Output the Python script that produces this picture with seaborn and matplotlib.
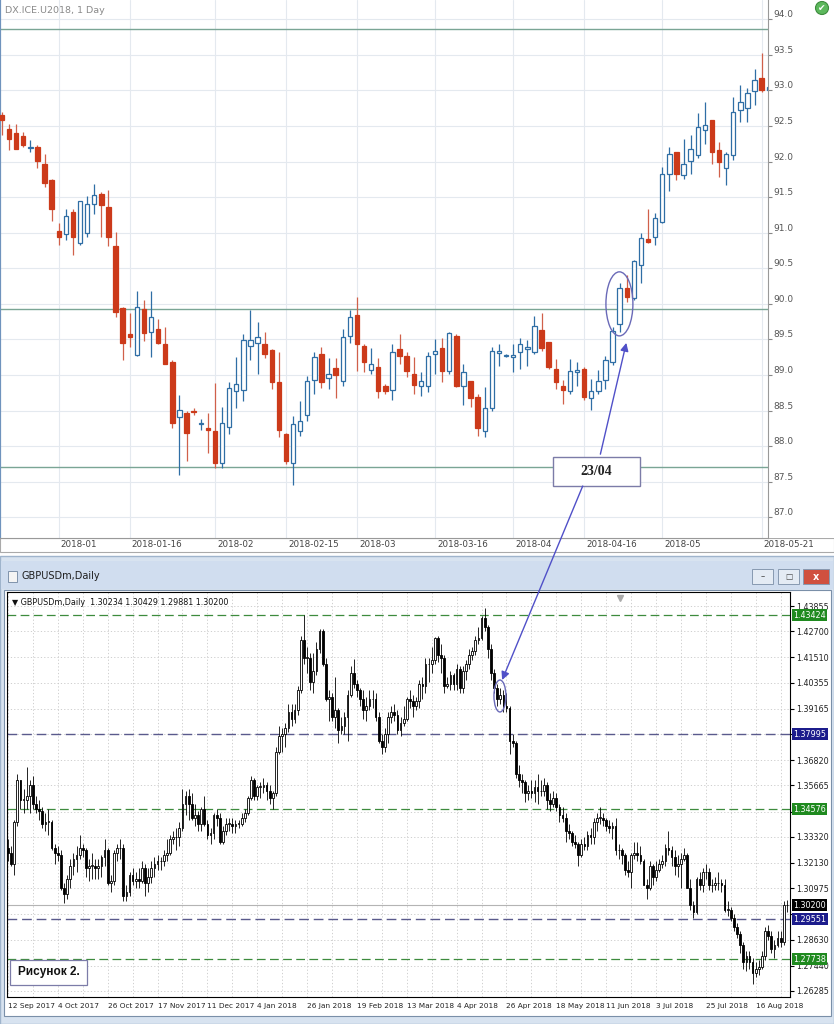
import numpy as np
import pandas as pd
import matplotlib
matplotlib.use("Agg")
import matplotlib.pyplot as plt
import matplotlib.transforms as mtransforms
from matplotlib.patches import Rectangle, Ellipse, ConnectionPatch
import seaborn as sns

sns.set_style("white")
plt.rcParams["font.family"] = ["DejaVu Sans"]

# ---------------- top chart: DX.ICE.U2018, daily ----------------
dx_open = [92.65, 92.46, 92.40, 92.36, 92.19, 92.20, 91.96, 91.74, 91.03, 90.98,
           91.29, 90.85, 90.99, 91.40, 91.55, 91.36, 90.81, 89.94, 89.57, 89.28,
           89.93, 89.61, 89.64, 89.44, 89.18, 88.41, 88.46, 88.49, 88.31, 88.25,
           88.21, 87.77, 88.27, 88.78, 88.79, 89.41, 89.45, 89.44, 89.35, 88.90,
           88.17, 87.77, 88.22, 88.44, 88.93, 89.29, 88.96, 89.10, 88.91, 89.55,
           89.84, 89.41, 89.07, 89.11, 88.85, 88.79, 89.37, 89.27, 89.02, 88.85,
           88.85, 89.30, 89.38, 89.05, 89.55, 88.85, 88.91, 88.69, 88.22, 88.53,
           89.31, 89.27, 89.26, 89.32, 89.37, 89.32, 89.63, 89.46, 89.09, 88.85,
           88.77, 89.04, 89.08, 88.68, 88.78, 88.93, 89.18, 89.72, 90.23, 90.08,
           90.55, 90.91, 90.94, 91.15, 91.83, 92.13, 91.81, 92.01, 92.09, 92.45,
           92.58, 92.16, 91.91, 92.09, 92.72, 92.75, 92.99, 93.18, 93.00]
dx_high = [92.70, 92.53, 92.53, 92.42, 92.30, 92.23, 92.11, 91.76, 91.13, 91.34,
           91.34, 91.45, 91.52, 91.68, 91.57, 91.60, 91.01, 89.95, 89.87, 90.18,
           90.05, 90.18, 89.79, 89.68, 89.21, 88.72, 88.49, 88.53, 88.38, 88.47,
           88.89, 88.55, 88.90, 89.25, 89.58, 89.91, 89.74, 89.61, 89.36, 89.32,
           88.18, 88.43, 88.64, 88.99, 89.32, 89.40, 89.24, 89.24, 89.65, 89.91,
           90.09, 89.44, 89.38, 89.24, 88.87, 89.44, 89.58, 89.32, 89.26, 89.04,
           89.32, 89.51, 89.52, 89.60, 89.58, 89.16, 88.92, 88.73, 88.83, 89.40,
           89.43, 89.29, 89.43, 89.52, 89.49, 89.83, 89.87, 89.47, 89.22, 88.93,
           89.22, 89.18, 89.11, 88.94, 89.07, 89.27, 89.67, 90.29, 90.40, 90.61,
           91.00, 91.34, 91.28, 91.92, 92.21, 92.14, 92.31, 92.37, 92.68, 92.83,
           92.59, 92.28, 92.14, 92.91, 93.07, 93.03, 93.30, 93.52, 93.24]
dx_low = [92.37, 92.16, 92.17, 92.21, 92.14, 91.91, 91.64, 91.16, 90.83, 90.90,
          90.68, 90.83, 90.94, 91.26, 90.94, 90.82, 89.82, 89.21, 89.40, 89.27,
          89.48, 89.25, 89.44, 89.15, 88.26, 87.60, 87.79, 88.44, 88.23, 87.91,
          87.70, 87.70, 88.17, 88.54, 88.64, 89.21, 89.01, 89.24, 88.80, 88.13,
          87.75, 87.46, 88.14, 88.36, 88.73, 88.82, 88.80, 88.68, 88.85, 89.45,
          89.06, 89.04, 89.02, 88.68, 88.73, 88.65, 89.15, 88.97, 88.73, 88.71,
          88.76, 89.01, 88.90, 89.02, 88.83, 88.58, 88.55, 88.15, 88.13, 88.49,
          89.13, 89.26, 89.04, 89.08, 89.13, 89.30, 89.34, 89.08, 88.80, 88.60,
          88.74, 88.85, 88.65, 88.51, 88.73, 88.80, 89.14, 89.60, 90.02, 90.06,
          90.29, 90.85, 90.83, 91.14, 91.59, 91.74, 91.75, 91.83, 92.05, 92.25,
          91.97, 91.78, 91.67, 92.02, 92.56, 92.56, 92.79, 92.98, 92.75]
dx_close = [92.58, 92.32, 92.18, 92.23, 92.21, 92.01, 91.70, 91.34, 90.94, 91.23,
            90.94, 91.44, 91.41, 91.53, 91.39, 90.94, 89.88, 89.45, 89.54, 89.95,
            89.59, 89.81, 89.45, 89.16, 88.32, 88.51, 88.18, 88.48, 88.33, 88.23,
            87.77, 88.33, 88.82, 88.87, 89.49, 89.49, 89.53, 89.30, 88.90, 88.23,
            87.79, 88.31, 88.35, 88.92, 89.26, 88.90, 89.02, 89.00, 89.54, 89.81,
            89.44, 89.18, 89.16, 88.77, 88.78, 89.32, 89.27, 89.06, 88.86, 88.91,
            89.27, 89.34, 89.06, 89.59, 88.85, 89.04, 88.68, 88.26, 88.54, 89.34,
            89.34, 89.28, 89.27, 89.43, 89.39, 89.69, 89.38, 89.11, 88.90, 88.79,
            89.05, 89.07, 88.69, 88.78, 88.92, 89.21, 89.62, 90.23, 90.09, 90.60,
            90.93, 90.87, 91.20, 91.83, 92.11, 91.82, 91.97, 92.17, 92.48, 92.51,
            92.14, 91.99, 92.10, 92.70, 92.83, 92.96, 93.14, 93.00, 93.05]
dx_levels = [93.86, 89.93, 87.71]
dx_tick_dates = ["2018-01-02", "2018-01-16", "2018-02-01", "2018-02-15", "2018-03-01",
                 "2018-03-16", "2018-04-02", "2018-04-16", "2018-05-01", "2018-05-21"]
dx_tick_labels = ["2018-01", "2018-01-16", "2018-02", "2018-02-15", "2018-03",
                  "2018-03-16", "2018-04", "2018-04-16", "2018-05", "2018-05-21"]
dx_yticks = [87.0, 87.5, 88.0, 88.5, 89.0, 89.5, 90.0, 90.5, 91.0, 91.5, 92.0, 92.5, 93.0, 93.5, 94.0]

# ---------------- bottom chart: GBPUSDm, daily (price x 10000) ----------------
gb_open = [
    13280, 13260, 13210, 13400, 13590, 13500, 13500, 13520, 13570, 13480, 13460, 13450, 13390, 13400,
    13400, 13280, 13260, 13250, 13100, 13070, 13140, 13200, 13230, 13250, 13280, 13270, 13190, 13200, 13200, 13190, 13200, 13240, 13270, 13120, 13130, 13260,
    13280, 13280, 13060, 13080, 13160, 13130, 13140, 13130, 13190, 13120, 13150, 13190, 13210, 13220, 13220, 13250, 13260, 13320, 13330, 13330, 13370, 13480,
    13520, 13480, 13420, 13430, 13390, 13460, 13390, 13340, 13350, 13430, 13420, 13310, 13360, 13390, 13390, 13380, 13390, 13390, 13420, 13440,
    13510, 13590, 13520, 13560, 13560, 13570, 13540, 13510, 13530, 13720, 13790, 13800, 13830, 13900, 13870, 13910, 14000, 14230, 14150, 14150, 14040, 14090,
    14190, 14270, 14120, 13960, 13970, 13880, 13910, 13820, 13840, 13880, 13980, 14080, 14030, 14000, 13960, 13910, 13930, 13960, 13960, 13880,
    13770, 13740, 13800, 13880, 13900, 13890, 13820, 13850, 13870, 13960, 13950, 13930, 13950, 14030, 14020, 14120, 14120, 14140, 14240, 14160, 14150, 14020,
    14030, 14070, 14030, 14100, 14010, 14090, 14120, 14160, 14180, 14230, 14240, 14330, 14290, 14190, 14080, 14010, 13960, 13980, 13930, 13920, 13770,
    13760, 13620, 13590, 13580, 13530, 13540, 13530, 13560, 13540, 13540, 13570, 13500, 13480, 13510, 13470, 13430, 13420, 13360, 13350, 13310, 13300, 13250, 13300,
    13290, 13340, 13330, 13400, 13420, 13420, 13410, 13380, 13370, 13380, 13270, 13270, 13250, 13180, 13170, 13250, 13260, 13250, 13220, 13110, 13100,
    13200, 13150, 13180, 13210, 13220, 13280, 13270, 13240, 13200, 13210, 13230, 13250, 13100, 13020, 12990, 13140, 13110, 13170, 13170, 13110, 13110, 13120,
    13120, 13110, 13000, 13000, 12960, 12920, 12890, 12840, 12760, 12790, 12760, 12710, 12730, 12740, 12790, 12900, 12880, 12820, 12840, 12870, 12850, 13023]
gb_high = [
    13320, 13290, 13410, 13620, 13590, 13550, 13650, 13590, 13610, 13520, 13500, 13470, 13440, 13460,
    13410, 13300, 13290, 13270, 13120, 13160, 13230, 13260, 13290, 13340, 13300, 13280, 13230, 13260, 13230, 13230, 13250, 13320, 13280, 13160, 13270, 13300,
    13320, 13300, 13110, 13170, 13190, 13170, 13190, 13220, 13210, 13190, 13220, 13240, 13250, 13240, 13270, 13320, 13340, 13360, 13370, 13400, 13550, 13540,
    13550, 13530, 13480, 13450, 13470, 13520, 13410, 13370, 13440, 13460, 13440, 13380, 13420, 13420, 13420, 13410, 13410, 13440, 13460, 13520,
    13610, 13600, 13570, 13580, 13600, 13580, 13570, 13540, 13740, 13840, 13830, 13850, 13940, 13940, 13940, 14020, 14250, 14345, 14200, 14170, 14170, 14220,
    14280, 14280, 14150, 14000, 13990, 14060, 13920, 13880, 13900, 14000, 14110, 14145, 14050, 14010, 14000, 13970, 14000, 14000, 13990, 13900,
    13800, 13830, 13900, 13930, 13940, 13910, 13880, 13930, 13970, 14000, 13980, 13970, 14050, 14060, 14150, 14150, 14200, 14245, 14250, 14210, 14160, 14060,
    14090, 14080, 14120, 14110, 14110, 14140, 14190, 14200, 14250, 14290, 14340, 14377, 14300, 14210, 14100, 14030, 14010, 14000, 13990, 13930, 13800,
    13770, 13660, 13620, 13590, 13570, 13590, 13590, 13620, 13590, 13600, 13580, 13530, 13540, 13530, 13480, 13470, 13440, 13390, 13360, 13340, 13310, 13320, 13330,
    13360, 13370, 13420, 13440, 13470, 13440, 13420, 13410, 13400, 13420, 13300, 13280, 13260, 13220, 13260, 13310, 13310, 13290, 13230, 13140, 13220,
    13210, 13220, 13230, 13250, 13300, 13360, 13290, 13270, 13250, 13260, 13280, 13260, 13140, 13040, 13150, 13170, 13190, 13210, 13190, 13140, 13150, 13170,
    13140, 13140, 13040, 13010, 12980, 12940, 12900, 12850, 12810, 12810, 12780, 12760, 12770, 12810, 12920, 12930, 12900, 12860, 12900, 12900, 13040, 13043]
gb_low = [
    13220, 13200, 13160, 13380, 13460, 13440, 13460, 13440, 13460, 13440, 13410, 13370, 13360, 13340,
    13270, 13210, 13220, 13090, 13030, 13050, 13100, 13160, 13170, 13230, 13240, 13150, 13130, 13140, 13140, 13140, 13150, 13200, 13110, 13080, 13110, 13220,
    13230, 13040, 13040, 13060, 13110, 13100, 13100, 13120, 13060, 13080, 13120, 13150, 13180, 13180, 13200, 13220, 13250, 13300, 13270, 13290, 13360, 13430,
    13410, 13410, 13380, 13360, 13360, 13380, 13320, 13300, 13320, 13380, 13300, 13300, 13340, 13360, 13350, 13350, 13370, 13380, 13400, 13430,
    13500, 13500, 13500, 13510, 13530, 13500, 13480, 13460, 13520, 13710, 13720, 13740, 13810, 13840, 13850, 13890, 13990, 14120, 14080, 14000, 13990, 14070,
    14170, 14110, 13950, 13860, 13860, 13830, 13760, 13800, 13800, 13770, 13970, 14010, 13970, 13930, 13870, 13860, 13910, 13920, 13860, 13760,
    13710, 13720, 13760, 13850, 13860, 13800, 13790, 13840, 13860, 13920, 13880, 13910, 13920, 13960, 13990, 14040, 14080, 14120, 14130, 14080, 13990, 14010,
    14000, 14000, 14000, 13990, 13990, 14050, 14100, 14140, 14160, 14210, 14230, 14270, 14150, 14050, 13990, 13930, 13940, 13900, 13900, 13710, 13740,
    13600, 13560, 13530, 13490, 13500, 13510, 13490, 13480, 13520, 13520, 13460, 13450, 13470, 13450, 13400, 13400, 13310, 13320, 13290, 13280, 13200, 13240, 13270,
    13270, 13300, 13300, 13360, 13390, 13380, 13360, 13350, 13320, 13250, 13230, 13210, 13160, 13150, 13100, 13230, 13220, 13210, 13110, 13050, 13090,
    13110, 13130, 13170, 13190, 13200, 13250, 13200, 13160, 13150, 13100, 13220, 13100, 13000, 12960, 12980, 13090, 13080, 13140, 13090, 13080, 13090, 13090,
    13080, 12990, 12970, 12950, 12900, 12870, 12800, 12730, 12720, 12730, 12660, 12690, 12700, 12730, 12770, 12860, 12800, 12780, 12830, 12830, 12840, 12988]
gb_close = [
    13260, 13210, 13400, 13590, 13500, 13500, 13520, 13570, 13480, 13460, 13450, 13390, 13400, 13400,
    13280, 13260, 13250, 13100, 13070, 13140, 13200, 13230, 13250, 13280, 13270, 13190, 13200, 13200, 13190, 13200, 13240, 13270, 13120, 13130, 13260, 13280,
    13280, 13060, 13080, 13160, 13130, 13140, 13130, 13190, 13120, 13150, 13190, 13210, 13220, 13220, 13250, 13260, 13320, 13330, 13330, 13370, 13480, 13520,
    13480, 13420, 13430, 13390, 13460, 13390, 13340, 13350, 13430, 13420, 13310, 13360, 13390, 13390, 13380, 13390, 13390, 13420, 13440, 13510,
    13590, 13520, 13560, 13560, 13570, 13540, 13510, 13530, 13720, 13790, 13800, 13830, 13900, 13870, 13910, 14000, 14230, 14150, 14150, 14040, 14090, 14190,
    14270, 14120, 13960, 13970, 13880, 13910, 13820, 13840, 13880, 13980, 14080, 14030, 14000, 13960, 13910, 13930, 13960, 13960, 13880, 13770,
    13740, 13800, 13880, 13900, 13890, 13820, 13850, 13870, 13960, 13950, 13930, 13950, 14030, 14020, 14120, 14120, 14140, 14240, 14160, 14150, 14020, 14030,
    14070, 14030, 14100, 14010, 14090, 14120, 14160, 14180, 14230, 14240, 14330, 14290, 14190, 14080, 14010, 13960, 13980, 13930, 13920, 13770, 13760,
    13620, 13590, 13580, 13530, 13540, 13530, 13560, 13540, 13540, 13570, 13500, 13480, 13510, 13470, 13430, 13420, 13360, 13350, 13310, 13300, 13250, 13300, 13290,
    13340, 13330, 13400, 13420, 13420, 13410, 13380, 13370, 13380, 13270, 13270, 13250, 13180, 13170, 13250, 13260, 13250, 13220, 13110, 13100, 13200,
    13150, 13180, 13210, 13220, 13280, 13270, 13240, 13200, 13210, 13230, 13250, 13100, 13020, 12990, 13140, 13110, 13170, 13170, 13110, 13110, 13120, 13120,
    13110, 13000, 13000, 12960, 12920, 12890, 12840, 12760, 12790, 12760, 12710, 12730, 12740, 12790, 12900, 12880, 12820, 12840, 12870, 12850, 13020, 13020]
gb_yticks = [1.43855, 1.42700, 1.41510, 1.40355, 1.39165, 1.38010, 1.36820, 1.35665,
             1.34475, 1.33320, 1.32130, 1.30975, 1.29785, 1.28630, 1.27440, 1.26285]
gb_hidden_ticks = [1.38010, 1.34475, 1.29785]   # covered by the level price boxes
gb_tick_labels = ["12 Sep 2017", "4 Oct 2017", "26 Oct 2017", "17 Nov 2017", "11 Dec 2017",
                  "4 Jan 2018", "26 Jan 2018", "19 Feb 2018", "13 Mar 2018", "4 Apr 2018",
                  "26 Apr 2018", "18 May 2018", "11 Jun 2018", "3 Jul 2018", "25 Jul 2018", "16 Aug 2018"]
gb_green_levels = [1.43424, 1.34576, 1.27738]
gb_blue_levels = [1.37995, 1.29551]
gb_bid = 1.30200
holidays = ["2017-12-25", "2018-01-01"]


def draw_candles(ax, o, h, l, c, width, up_fc, up_ec, dn_fc, dn_ec, up_wick, dn_wick, lw, min_body):
    o, h, l, c = (np.asarray(a, dtype=float) for a in (o, h, l, c))
    x = np.arange(len(c))
    up = c >= o
    lo = np.minimum(o, c)
    body = np.maximum(np.abs(c - o), min_body)
    ax.vlines(x[up], l[up], h[up], colors=up_wick, lw=lw, zorder=3)
    ax.vlines(x[~up], l[~up], h[~up], colors=dn_wick, lw=lw, zorder=3)
    ax.bar(x[up], body[up], width, lo[up], color=up_fc, edgecolor=up_ec, lw=lw, zorder=4)
    ax.bar(x[~up], body[~up], width, lo[~up], color=dn_fc, edgecolor=dn_ec, lw=lw, zorder=4)


W, H = 834, 1024
fig = plt.figure(figsize=(W / 100, H / 100), dpi=100)
fig.patch.set_facecolor("white")


def px_box(x0, y0, x1, y1):
    return [x0 / W, 1 - y1 / H, (x1 - x0) / W, (y1 - y0) / H]


def px_rect(x0, y0, x1, y1, **kw):
    kw.setdefault("zorder", -5)
    fig.add_artist(Rectangle((x0 / W, 1 - y1 / H), (x1 - x0) / W, (y1 - y0) / H,
                             transform=fig.transFigure, **kw))


# ---------------- top panel ----------------
ax1 = fig.add_axes(px_box(0, 0, 768, 538))
draw_candles(ax1, dx_open, dx_high, dx_low, dx_close, 0.62,
             "white", "#2f6ea5", "#cc3a1a", "#cc3a1a", "#2f6ea5", "#d0604a", 0.9, 0.015)
for lvl in dx_levels:
    ax1.axhline(lvl, color="#7aa595", lw=1.0, zorder=2)
ax1.set_xlim(-0.28, 107.9)
ax1.set_ylim(86.71, 94.27)
ax1.set_yticks(dx_yticks)
ax1.set_yticklabels([f"{v:.1f}" for v in dx_yticks])
ax1.yaxis.tick_right()
ax1.tick_params(axis="y", length=3, color="#888", pad=1, labelsize=6.5, labelcolor="#555")
for lbl in ax1.get_yticklabels():
    lbl.set_va("bottom")

dx_dates = pd.bdate_range("2017-12-19", "2018-05-22").drop(pd.to_datetime(holidays))
dx_tick_pos = [dx_dates.get_loc(pd.Timestamp(d)) for d in dx_tick_dates]
ax1.set_xticks(dx_tick_pos)
ax1.set_xticklabels(dx_tick_labels)
ax1.tick_params(axis="x", length=10, direction="out", color="#999", pad=-8.5,
                labelsize=6.3, labelcolor="#444")
shift = mtransforms.ScaledTranslation(2 / 100, 0, fig.dpi_scale_trans)
for lbl in ax1.get_xticklabels():
    lbl.set_ha("left")
    lbl.set_transform(lbl.get_transform() + shift)
ax1.grid(True, color="#e4e9ef", lw=0.8)
ax1.set_axisbelow(True)
ax1.spines["top"].set_visible(False)
ax1.spines["left"].set_color("#6f93bd")
ax1.spines["left"].set_linewidth(1.6)
for s in ("right", "bottom"):
    ax1.spines[s].set_color("#999")
    ax1.spines[s].set_linewidth(0.8)
ax1.text(0.006, 0.988, "DX.ICE.U2018, 1 Day", transform=ax1.transAxes, va="top", ha="left",
         fontsize=6.8, color="#8a8a8a")

# annotation on the top chart
ax1.add_patch(Ellipse((86.97, 90.0), 3.8, 0.90, fill=False, ec="#6a6ab8", lw=1.0, zorder=6))
ax1.add_patch(Rectangle((77.6, 87.44), 12.3, 0.41, fc="white", ec="#7c7ca8", lw=1.0, zorder=6))
ax1.text(83.75, 87.645, "23/04", ha="center", va="center", fontsize=10, fontweight="bold",
         family="Liberation Serif", color="#222", zorder=7)
ax1.annotate("", xy=(88.03, 89.49), xytext=(84.2, 87.85),
             arrowprops=dict(arrowstyle="-|>", color="#5050c8", lw=1.0, mutation_scale=12), zorder=7)

px_rect(0, 538, 834, 552, fc="white", ec="#aaa", lw=0.8)
px_rect(768, 0, 834, 538, fc="white", ec="none")
fig.add_artist(Ellipse((822 / W, 1 - 8 / H), 13 / W, 13 / H, transform=fig.transFigure,
                       fc="#5cb85c", ec="#3d8b3d", lw=0.8, zorder=5))
fig.text(822 / W, 1 - 8.5 / H, "\u2714", ha="center", va="center", fontsize=6.5, color="white", zorder=6)

# ---------------- bottom window chrome ----------------
px_rect(0, 556, 834, 1024, fc="#d8e3f0", ec="#9fb4cc", lw=1.0, zorder=-6)
px_rect(1, 561, 833, 589, fc="#d0ddef", ec="none")
px_rect(8, 571, 17, 582, fc="#f4f4f4", ec="#7f93ab", lw=0.7)
fig.text(22 / W, 1 - 576 / H, "GBPUSDm,Daily", fontsize=7, va="center", ha="left", color="#1e1e1e")
for bx0, bx1, fc in ((752, 773, "#e4ebf4"), (778, 799, "#e4ebf4"), (803, 829, "#d0503f")):
    px_rect(bx0, 569, bx1, 584, fc=fc, ec="#8799b0", lw=0.7, zorder=-4)
fig.text(762.5 / W, 1 - 577 / H, "\u2013", ha="center", va="center", fontsize=6, color="#444")
fig.text(788.5 / W, 1 - 576.5 / H, "\u25a1", ha="center", va="center", fontsize=5.5, color="#444")
fig.text(816 / W, 1 - 576.5 / H, "x", ha="center", va="center", fontsize=7, fontweight="bold", color="white")
px_rect(4, 590, 831, 1016, fc="white", ec="#7a8fa8", lw=0.8)

# ---------------- bottom panel ----------------
ax2 = fig.add_axes(px_box(7, 592, 790, 997))
gb_o = np.array(gb_open) / 10000
gb_h = np.array(gb_high) / 10000
gb_l = np.array(gb_low) / 10000
gb_c = np.array(gb_close) / 10000
draw_candles(ax2, gb_o, gb_h, gb_l, gb_c, 0.55,
             "white", "black", "black", "black", "black", "black", 0.6, 0.0003)
ax2.set_xlim(-0.32, 251.0)
ax2.set_ylim(1.26009, 1.44494)

ax2.set_yticks(gb_yticks)
ax2.set_yticklabels(["" if v in gb_hidden_ticks else f"{v:.5f}" for v in gb_yticks])
ax2.yaxis.tick_right()
ax2.tick_params(axis="y", length=3, color="black", pad=1.5, labelsize=5.8, labelcolor="#222")

gb_dates = pd.bdate_range("2017-09-12", "2018-08-30").drop(pd.to_datetime(holidays))
gb_tick_pos = [gb_dates.get_loc(pd.Timestamp(d)) for d in gb_tick_labels]
ax2.set_xticks(gb_tick_pos)
ax2.set_xticklabels(gb_tick_labels)
ax2.set_xticks(np.arange(8, 251, 16), minor=True)
ax2.tick_params(axis="x", which="major", length=3, color="black", pad=1.5, labelsize=5.3, labelcolor="#222")
ax2.tick_params(axis="x", which="minor", length=0)
for lbl in ax2.get_xticklabels():
    lbl.set_ha("left")
ax2.grid(True, which="both", color="#c8c8c8", lw=0.6, ls=(0, (1.5, 2.5)))
ax2.set_axisbelow(True)
for s in ax2.spines.values():
    s.set_color("black")
    s.set_linewidth(0.8)

for lvl in gb_green_levels:
    ax2.axhline(lvl, color="#3d8b3d", lw=0.9, ls=(0, (7, 3.5)), zorder=2)
for lvl in gb_blue_levels:
    ax2.axhline(lvl, color="#5a5a8c", lw=1.0, ls=(0, (7, 3.5)), zorder=2)
ax2.axhline(gb_bid, color="#b4b4b4", lw=0.8, zorder=2)

ytrans = mtransforms.blended_transform_factory(ax2.transAxes, ax2.transData)
for lvl, fc in ([(v, "#1f8a1f") for v in gb_green_levels] + [(v, "#1c1c8c") for v in gb_blue_levels]
                + [(gb_bid, "black")]):
    ax2.text(1.004, lvl, f"{lvl:.5f}", transform=ytrans, va="center", ha="left", fontsize=5.8,
             color="white", clip_on=False, zorder=8,
             bbox=dict(boxstyle="square,pad=0.18", fc=fc, ec="none"))

ax2.text(0.006, 0.985, "\u25bc GBPUSDm,Daily  1.30234 1.30429 1.29881 1.30200", transform=ax2.transAxes,
         va="top", ha="left", fontsize=5.8, color="#111")
ax2.plot([0.783], [0.985], marker="v", ms=4, color="#aaaaaa", transform=ax2.transAxes, clip_on=False)

ax2.add_patch(Rectangle((0.004, 0.030), 0.098, 0.062, transform=ax2.transAxes,
                        fc="white", ec="#7c7ca8", lw=0.9, zorder=7))
ax2.text(0.053, 0.061, "Рисунок 2.", transform=ax2.transAxes, ha="center", va="center",
         fontsize=8.5, fontweight="bold", family="Liberation Sans", color="#111", zorder=8)
ax2.add_patch(Ellipse((157.9, 1.39747), 3.85, 0.0146, fill=False, ec="#6a6ab8", lw=1.0, zorder=6))

# arrow from the 23/04 box down to the GBPUSD candle
con = ConnectionPatch(xyA=(81.8, 87.44), coordsA=ax1.transData,
                      xyB=(158.6, 1.40477), coordsB=ax2.transData,
                      arrowstyle="-|>", color="#5050c8", lw=1.0, mutation_scale=12, zorder=10)
fig.add_artist(con)

fig.savefig("out.png", dpi=100)
